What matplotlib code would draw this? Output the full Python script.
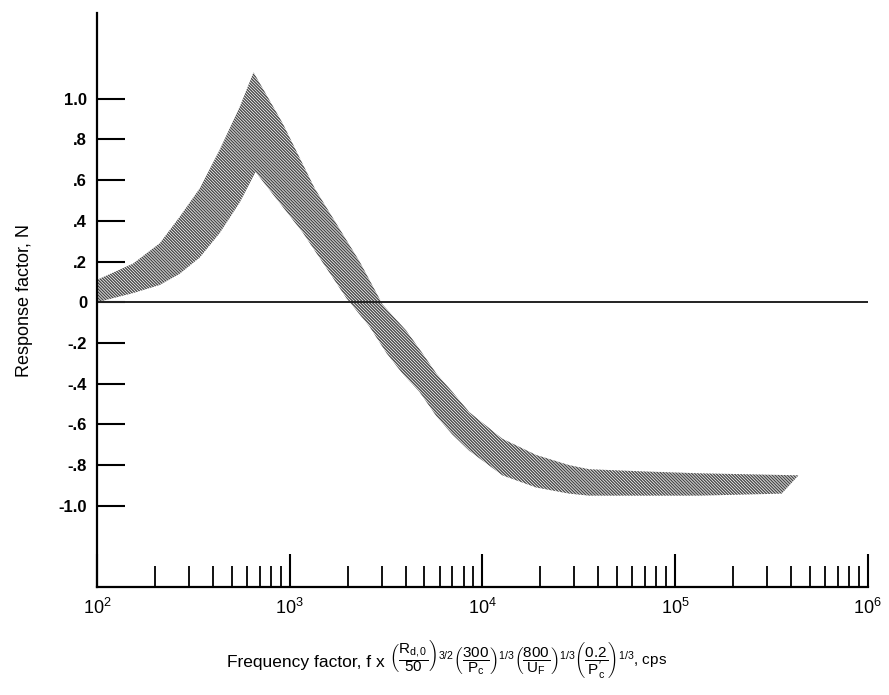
import numpy as np
import matplotlib
matplotlib.use("Agg")
import matplotlib.pyplot as plt
from matplotlib.ticker import LogLocator, FixedLocator, NullFormatter

plt.rcParams['font.family'] = ['Liberation Sans', 'DejaVu Sans']
plt.rcParams['hatch.linewidth'] = 1.0
plt.rcParams['mathtext.fontset'] = 'custom'
plt.rcParams['mathtext.rm'] = 'Liberation Sans'
plt.rcParams['mathtext.it'] = 'Liberation Sans'
plt.rcParams['mathtext.bf'] = 'Liberation Sans:bold'

# upper edge of the response band (frequency factor, cps -> N)
upper_f = [100, 154, 212, 269, 342, 434, 551, 650, 920, 1350, 2310, 3035, 4040, 4890, 5780,
           7000, 8570, 12700, 19050, 28250, 35800, 65000, 133000, 438000]
upper_n = [0.11, 0.19, 0.29, 0.42, 0.56, 0.75, 0.96, 1.13, 0.88, 0.56, 0.20, -0.01, -0.14, -0.25, -0.35,
           -0.44, -0.54, -0.67, -0.75, -0.80, -0.82, -0.83, -0.84, -0.85]

# lower edge of the response band
lower_f = [100, 154, 212, 269, 342, 434, 551, 666, 1175, 1972, 2600, 3185, 3850, 4720, 5780,
           7000, 8570, 12700, 19050, 28250, 35800, 133000, 358000]
lower_n = [0.0, 0.045, 0.085, 0.14, 0.22, 0.34, 0.49, 0.64, 0.34, 0.02, -0.12, -0.25, -0.35, -0.44, -0.56,
           -0.65, -0.73, -0.85, -0.91, -0.94, -0.95, -0.95, -0.94]

y_ticks = [1.0, 0.8, 0.6, 0.4, 0.2, 0.0, -0.2, -0.4, -0.6, -0.8, -1.0]
y_labels = ['1.0', '.8', '.6', '.4', '.2', '0', '-.2', '-.4', '-.6', '-.8', '-1.0']

fig = plt.figure(figsize=(8.89, 6.95), dpi=100)
ax = fig.add_axes([0.109, 0.155, 0.867, 0.826])

# band drawn as a closed polygon: upper edge forward, lower edge back
poly_f = np.concatenate([upper_f, lower_f[::-1]])
poly_n = np.concatenate([upper_n, lower_n[::-1]])
ax.fill(poly_f, poly_n, facecolor='#ffffff', edgecolor='#4a4a4a', hatch='\\' * 11, linewidth=0)

ax.axhline(0, color='#222222', linewidth=1.4)

ax.set_xscale('log')
ax.set_xlim(100, 1e6)
ax.set_ylim(-1.4, 1.42)

ax.spines['top'].set_visible(False)
ax.spines['right'].set_visible(False)
ax.spines['left'].set_linewidth(1.6)
ax.spines['bottom'].set_linewidth(1.6)

ax.yaxis.set_major_locator(FixedLocator(y_ticks))
ax.set_yticklabels(y_labels, fontsize=12, fontweight='bold')
ax.tick_params(axis='y', direction='in', length=20, width=1.5, pad=7)

ax.xaxis.set_major_locator(LogLocator(base=10, numticks=10))
ax.xaxis.set_minor_locator(LogLocator(base=10, subs=np.arange(2, 10), numticks=20))
ax.xaxis.set_minor_formatter(NullFormatter())
ax.tick_params(axis='x', which='major', direction='in', length=24, width=1.5, pad=8, labelsize=13)
ax.tick_params(axis='x', which='minor', direction='in', length=15, width=1.3)

ax.set_ylabel('Response factor, N', fontsize=13)
ax.yaxis.set_label_coords(-0.083, 0.5)

# x label in two pieces: plain words, then the scaling factors
fig.text(385 / 889, 1 - 662 / 695, 'Frequency factor, f x', fontsize=12.5, ha='right', va='center')
fig.text(389 / 889, 1 - 660 / 695,
         r'$\left(\dfrac{R_{d,0}}{50}\right)^{3/2}\left(\dfrac{300}{P_c}\right)^{1/3}'
         r'\left(\dfrac{800}{U_F}\right)^{1/3}\left(\dfrac{0.2}{P^{\prime}_c}\right)^{1/3}$, cps',
         fontsize=11, ha='left', va='center')

fig.savefig('out.png', dpi=100)
